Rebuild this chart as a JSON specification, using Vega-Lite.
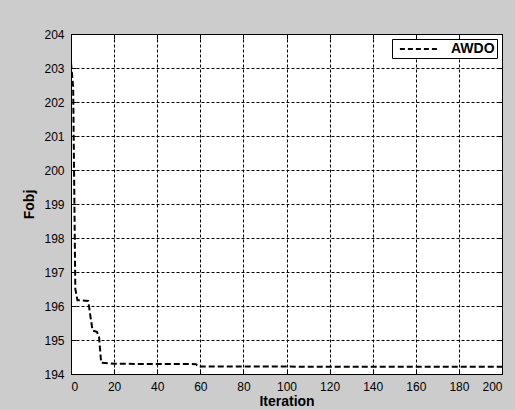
{
  "$schema": "https://vega.github.io/schema/vega-lite/v6.json",
  "width": 431,
  "height": 340,
  "autosize": {"type": "none"},
  "padding": {"left": 71, "top": 34, "right": 13, "bottom": 36},
  "background": "#cccccc",
  "data": {
    "values": [
      {"iter": 0, "fobj": 203.15, "series": "AWDO"},
      {"iter": 1, "fobj": 202.45, "series": "AWDO"},
      {"iter": 2, "fobj": 196.5, "series": "AWDO"},
      {"iter": 3, "fobj": 196.17, "series": "AWDO"},
      {"iter": 8, "fobj": 196.15, "series": "AWDO"},
      {"iter": 9, "fobj": 195.7, "series": "AWDO"},
      {"iter": 10, "fobj": 195.28, "series": "AWDO"},
      {"iter": 12, "fobj": 195.24, "series": "AWDO"},
      {"iter": 13, "fobj": 195.1, "series": "AWDO"},
      {"iter": 14, "fobj": 194.33, "series": "AWDO"},
      {"iter": 20, "fobj": 194.3, "series": "AWDO"},
      {"iter": 58, "fobj": 194.29, "series": "AWDO"},
      {"iter": 59, "fobj": 194.22, "series": "AWDO"},
      {"iter": 200, "fobj": 194.21, "series": "AWDO"}
    ]
  },
  "layer": [
    {
      "mark": {"type": "line", "strokeWidth": 2, "strokeDash": [6, 3], "clip": true},
      "encoding": {
        "x": {
          "field": "iter", "type": "quantitative",
          "scale": {"domain": [0, 200], "nice": false},
          "axis": {"values": [0,20,40,60,80,100,120,140,160,180,200], "title": "Iteration", "titleFontSize": 14, "titleFontWeight": "bold", "titlePadding": 2, "labelPadding": 12}
        },
        "y": {
          "field": "fobj", "type": "quantitative",
          "scale": {"domain": [194, 204], "nice": false, "zero": false},
          "axis": {"values": [194,195,196,197,198,199,200,201,202,203,204], "title": "Fobj", "titleFontSize": 14, "titleFontWeight": "bold", "titlePadding": 7, "labelPadding": 12}
        },
        "color": {
          "field": "series", "type": "nominal",
          "scale": {"range": ["#000000"]},
          "legend": {
            "title": null, "orient": "top-right", "offset": 5,
            "symbolType": "M-0.3,0L5,0", "symbolStrokeWidth": 2, "symbolDash": [5, 3], "symbolSize": 196,
            "labelFontSize": 14, "labelFontWeight": "bold", "labelFont": "Liberation Sans", "labelColor": "#000000",
            "strokeColor": "#000000", "fillColor": "#ffffff", "padding": 2, "labelOffset": 41
          }
        }
      }
    },
    {
      "mark": {"type": "line", "opacity": 0},
      "encoding": {
        "x": {
          "field": "iter", "type": "quantitative",
          "axis": {"orient": "top", "values": [0,20,40,60,80,100,120,140,160,180,200], "labels": false, "grid": false, "title": null}
        },
        "y": {
          "field": "fobj", "type": "quantitative",
          "axis": {"orient": "right", "values": [194,195,196,197,198,199,200,201,202,203,204], "labels": false, "grid": false, "title": null}
        }
      }
    }
  ],
  "resolve": {"axis": {"x": "independent", "y": "independent"}},
  "config": {
    "view": {"stroke": "#000000", "strokeWidth": 1, "fill": "#ffffff"},
    "axis": {
      "labelFont": "Liberation Sans", "labelFontSize": 12, "labelColor": "#000000",
      "titleFont": "Liberation Sans", "titleColor": "#000000",
      "domainColor": "#000000", "tickColor": "#000000", "tickSize": -5,
      "gridColor": "#000000", "gridDash": [3, 2], "gridOpacity": 1, "gridWidth": 1
    }
  }
}
